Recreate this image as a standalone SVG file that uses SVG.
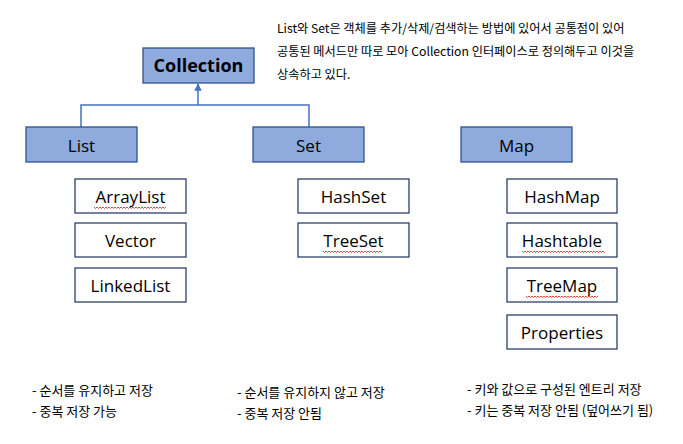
<svg xmlns="http://www.w3.org/2000/svg" width="683" height="444" viewBox="0 0 683 444">
<defs>
<style>
.p{fill:#8FAADC;stroke:#2F528F;stroke-width:1.3}
.c{fill:#fff;stroke:#2F3F6A;stroke-width:1.3}
.t{font-family:"Open Sans","Noto Sans CJK KR",sans-serif;font-size:17px;fill:#000;text-anchor:middle}
.k{font-family:"Noto Sans CJK KR",sans-serif;font-size:12.2px;fill:#000}
.b{font-family:"Noto Sans CJK KR",sans-serif;font-size:13px;fill:#000}
.w{fill:none;stroke:#E03030;stroke-width:0.9}
.e{fill:none;stroke:#4472C4;stroke-width:1.5}
</style>
<marker id="a" viewBox="0 0 10 10" refX="9" refY="5" markerWidth="5" markerHeight="5" orient="auto"><path d="M0,0L10,5L0,10z" fill="#4472C4"/></marker>
<path id="sq" d="M0,0 l1.5,1.5 l1.5,-1.5 l1.5,1.5 l1.5,-1.5 l1.5,1.5 l1.5,-1.5 l1.5,1.5 l1.5,-1.5 l1.5,1.5 l1.5,-1.5 l1.5,1.5 l1.5,-1.5 l1.5,1.5 l1.5,-1.5 l1.5,1.5 l1.5,-1.5 l1.5,1.5 l1.5,-1.5 l1.5,1.5 l1.5,-1.5 l1.5,1.5 l1.5,-1.5 l1.5,1.5 l1.5,-1.5 l1.5,1.5 l1.5,-1.5 l1.5,1.5 l1.5,-1.5 l1.5,1.5 l1.5,-1.5 l1.5,1.5 l1.5,-1.5 l1.5,1.5 l1.5,-1.5 l1.5,1.5 l1.5,-1.5 l1.5,1.5 l1.5,-1.5 l1.5,1.5 l1.5,-1.5 l1.5,1.5 l1.5,-1.5 l1.5,1.5 l1.5,-1.5 l1.5,1.5 l1.5,-1.5 l1.5,1.5 l1.5,-1.5 l1.5,1.5 l1.5,-1.5 l1.5,1.5 l1.5,-1.5 l1.5,1.5 l1.5,-1.5 l1.5,1.5 l1.5,-1.5"/>
</defs>
<rect width="683" height="444" fill="#fff"/>
<g id="connectors">
<path class="e" d="M81,127 V105 H309 V127"/>
<path class="e" d="M198,105 V84" marker-end="url(#a)"/>
</g>
<g id="collection"><rect class="p" x="143" y="48" width="111" height="35"/><text class="t" x="198.5" y="72" style="font-weight:bold;font-size:18px">Collection</text></g>
<g id="list"><rect class="p" x="26" y="127" width="111" height="35"/><text class="t" x="81.5" y="152">List</text></g>
<g id="set"><rect class="p" x="253" y="127" width="111" height="35"/><text class="t" x="308.5" y="152">Set</text></g>
<g id="map"><rect class="p" x="461" y="127" width="111" height="35"/><text class="t" x="516.5" y="152">Map</text></g>
<g id="arraylist"><rect class="c" x="75" y="179" width="111" height="34"/><text class="t" x="130.5" y="203">ArrayList</text></g>
<g id="vector"><rect class="c" x="75" y="223" width="111" height="34"/><text class="t" x="130.5" y="247">Vector</text></g>
<g id="linkedlist"><rect class="c" x="75" y="268" width="111" height="34"/><text class="t" x="130.5" y="292">LinkedList</text></g>
<g id="hashset"><rect class="c" x="298" y="179" width="111" height="34"/><text class="t" x="353.5" y="203">HashSet</text></g>
<g id="treeset"><rect class="c" x="298" y="223" width="111" height="34"/><text class="t" x="353.5" y="247">TreeSet</text></g>
<g id="hashmap"><rect class="c" x="507" y="179" width="110" height="34"/><text class="t" x="562" y="203">HashMap</text></g>
<g id="hashtable"><rect class="c" x="507" y="223" width="110" height="34"/><text class="t" x="562" y="247">Hashtable</text></g>
<g id="treemap"><rect class="c" x="507" y="268" width="110" height="34"/><text class="t" x="562" y="292">TreeMap</text></g>
<g id="properties"><rect class="c" x="507" y="315" width="110" height="34"/><text class="t" x="562" y="339">Properties</text></g>
<g id="squiggles">
<svg x="94" y="206" width="72" height="4" overflow="hidden"><use href="#sq" class="w" y="1"/></svg>
<svg x="323" y="250" width="59" height="4" overflow="hidden"><use href="#sq" class="w" y="1"/></svg>
<svg x="522" y="250" width="83" height="4" overflow="hidden"><use href="#sq" class="w" y="1"/></svg>
<svg x="526" y="295" width="72" height="4" overflow="hidden"><use href="#sq" class="w" y="1"/></svg>
</g>
<g id="notes">
<text class="k" x="277" y="33">List와 Set은 객체를 추가/삭제/검색하는 방법에 있어서 공통점이 있어</text>
<text class="k" x="277" y="56">공통된 메서드만 따로 모아 Collection 인터페이스로 정의해두고 이것을</text>
<text class="k" x="277" y="79">상속하고 있다.</text>
<text class="b" x="32" y="395">- 순서를 유지하고 저장</text>
<text class="b" x="32" y="416">- 중복 저장 가능</text>
<text class="b" x="237" y="397">- 순서를 유지하지 않고 저장</text>
<text class="b" x="237" y="418">- 중복 저장 안됨</text>
<text class="b" x="467" y="394">- 키와 값으로 구성된 엔트리 저장</text>
<text class="b" x="467" y="415">- 키는 중복 저장 안됨 (덮어쓰기 됨)</text>
</g>
</svg>
